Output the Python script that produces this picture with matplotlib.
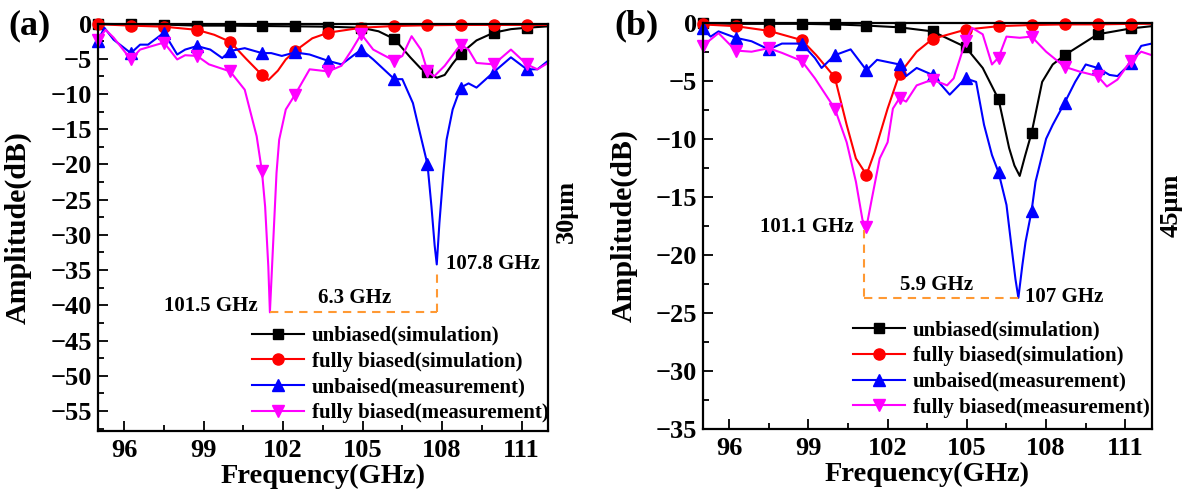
import numpy as np
import matplotlib
matplotlib.use("Agg")
import matplotlib.pyplot as plt
from matplotlib.ticker import MultipleLocator

plt.rcParams['font.family'] = ['Liberation Serif', 'DejaVu Serif']
plt.rcParams['font.weight'] = 'bold'

# ---------------- data: panel (a) 30um ----------------
a_unb_sim_f = [95.0, 96.25, 97.5, 98.75, 100.0, 101.2, 102.45, 103.7, 104.95, 105.6, 106.2,
               106.8, 107.2, 107.45, 107.8, 108.1, 108.4, 108.7, 109.3, 109.95, 110.6, 111.2, 112.0]
a_unb_sim_v = [-0.05, -0.1, -0.15, -0.3, -0.3, -0.35, -0.4, -0.45, -0.6, -1.1, -2.2,
               -4.8, -6.4, -6.9, -7.7, -7.3, -5.7, -4.3, -2.4, -1.3, -0.8, -0.6, -0.4]

a_fb_sim_f = [95.0, 96.25, 97.5, 98.75, 99.4, 100.0, 100.6, 101.2, 101.45, 101.8, 102.1, 102.45,
              103.1, 103.7, 104.95, 106.2, 107.45, 108.7, 109.95, 111.2, 112.0]
a_fb_sim_v = [-0.1, -0.3, -0.45, -0.9, -1.6, -2.6, -5.0, -7.3, -8.0, -6.7, -5.1, -3.9,
              -2.1, -1.3, -0.6, -0.35, -0.25, -0.2, -0.2, -0.2, -0.2]

a_unb_meas_f = [95.0, 95.25, 95.6, 96.25, 96.6, 96.9, 97.5, 98.0, 98.3, 98.75, 99.25, 99.7, 100.0,
                100.55, 101.2, 101.55, 101.95, 102.45, 103.0, 103.7, 104.2, 104.95, 105.4, 106.2,
                106.5, 106.9, 107.15, 107.45, 107.6, 107.72, 107.8, 107.9, 108.05, 108.17, 108.4,
                108.7, 109.0, 109.3, 109.95, 110.6, 111.2, 111.6, 112.0]
a_unb_meas_v = [-2.5, -0.6, -2.3, -4.2, -3.0, -3.0, -1.3, -4.4, -3.7, -3.2, -3.7, -4.9, -3.9,
                -3.5, -4.2, -4.2, -4.6, -4.1, -4.4, -5.3, -5.8, -3.7, -5.1, -7.9,
                -7.9, -11.3, -15.3, -20.0, -26.0, -31.5, -34.2, -28.3, -21.2, -16.5, -12.2,
                -9.1, -8.5, -9.1, -6.9, -4.8, -6.5, -6.5, -5.3]

a_fb_meas_f = [95.0, 95.3, 95.6, 96.25, 96.6, 97.5, 98.0, 98.3, 98.75, 99.2, 100.0, 100.55, 101.0,
               101.2, 101.32, 101.44, 101.5, 101.6, 101.75, 101.85, 102.1, 102.45, 103.0, 103.7,
               104.2, 104.6, 104.95, 105.4, 106.2, 106.5, 106.85, 107.2, 107.45, 107.7, 108.1,
               108.7, 109.0, 109.3, 109.95, 110.6, 111.2, 111.6, 112.0]
a_fb_meas_v = [-2.3, -0.9, -2.0, -5.1, -3.7, -2.7, -5.1, -4.5, -4.6, -5.8, -6.8, -9.4, -16.0,
               -21.0, -26.0, -34.5, -41.0, -33.0, -21.2, -16.5, -12.2, -10.1, -6.5, -6.8,
               -6.0, -3.7, -1.5, -3.7, -5.3, -4.6, -1.8, -3.7, -6.8, -7.5, -6.0,
               -3.0, -3.7, -5.6, -5.8, -3.7, -5.8, -6.5, -5.6]

# ---------------- data: panel (b) 45um ----------------
b_unb_sim_f = [95.0, 96.25, 97.5, 98.75, 100.0, 101.2, 102.45, 103.7, 104.95, 105.6, 106.2, 106.6,
               106.8, 107.0, 107.2, 107.45, 107.85, 108.25, 108.7, 109.95, 111.2, 112.0]
b_unb_sim_v = [-0.05, -0.1, -0.1, -0.1, -0.15, -0.25, -0.4, -0.75, -2.1, -3.9, -6.6, -10.8,
               -12.3, -13.2, -11.5, -9.5, -5.1, -3.6, -2.8, -1.0, -0.5, -0.3]

b_fb_sim_f = [95.0, 96.25, 97.5, 98.75, 99.3, 100.0, 100.45, 100.8, 101.2, 101.5, 102.0, 102.45,
              103.1, 103.7, 104.95, 106.2, 107.45, 108.7, 109.95, 111.2, 112.0]
b_fb_sim_v = [-0.15, -0.3, -0.7, -1.5, -2.8, -4.7, -8.8, -11.7, -13.1, -11.2, -7.4, -4.4,
              -2.5, -1.4, -0.6, -0.3, -0.2, -0.15, -0.15, -0.1, -0.1]

b_unb_meas_f = [95.0, 95.3, 95.6, 96.25, 96.85, 97.5, 98.0, 98.75, 99.25, 99.5, 100.0, 100.6,
                101.2, 101.6, 102.45, 102.7, 103.1, 103.7, 104.35, 104.95, 105.35, 105.65, 105.95,
                106.2, 106.5, 106.7, 106.84, 106.95, 107.1, 107.22, 107.45, 107.6, 108.0, 108.25,
                108.7, 109.1, 109.5, 109.95, 110.4, 110.7, 111.2, 111.6, 112.0]
b_unb_meas_v = [-0.5, -1.2, -0.75, -1.3, -1.6, -2.3, -1.8, -1.8, -3.05, -3.9, -2.8, -2.3,
                -4.1, -3.2, -3.6, -4.6, -3.9, -4.5, -6.2, -4.8, -5.1, -8.8, -11.4,
                -12.9, -15.7, -19.5, -22.1, -23.7, -20.9, -18.9, -16.2, -13.7, -10.0, -8.8,
                -6.9, -5.1, -3.6, -3.9, -4.5, -4.6, -3.5, -2.0, -1.8]

b_fb_meas_f = [95.0, 95.6, 96.25, 96.85, 97.5, 98.0, 98.75, 99.25, 100.0, 100.45, 100.8, 101.05,
               101.2, 101.4, 101.7, 102.0, 102.2, 102.45, 102.7, 103.1, 103.7, 104.25, 104.5,
               104.95, 105.2, 105.6, 105.95, 106.2, 106.5, 107.0, 107.45, 108.0, 108.7, 109.25,
               109.95, 110.3, 110.7, 111.2, 111.6, 112.0]
b_fb_meas_v = [-2.0, -0.9, -2.4, -2.5, -2.2, -2.6, -3.3, -4.8, -7.4, -10.3, -13.7, -17.0,
               -17.6, -15.2, -11.7, -10.3, -7.4, -6.5, -6.8, -5.4, -4.9, -5.4, -4.8,
               -1.6, -0.45, -1.0, -3.6, -3.0, -1.2, -1.3, -1.2, -2.5, -3.8, -4.2,
               -4.6, -5.5, -4.9, -3.3, -2.5, -2.8]

labels = ['unbiased(simulation)', 'fully biased(simulation)',
          'unbaised(measurement)', 'fully biased(measurement)']

# marker frequencies (where the symbols sit along each curve)
mark_f = [95.0, 96.25, 97.5, 98.75, 100.0, 101.2, 102.45, 103.7, 104.95, 106.2,
          107.45, 108.7, 109.95, 111.2]

# annotations
a_res = (101.5, 107.8, -41.0)   # fully biased dip, unbiased dip, level
b_res = (101.1, 107.0, -23.75)

styles = [dict(color='black', marker='s', ms=6.5),
          dict(color='red', marker='o', ms=8),
          dict(color='blue', marker='^', ms=9),
          dict(color='#FF00FF', marker='v', ms=9)]


def mk_idx(f):
    return [i for i, x in enumerate(f) if any(abs(x - m) < 1e-6 for m in mark_f)]


fig = plt.figure(figsize=(11.89, 4.93), dpi=100)
axa = fig.add_axes([0.0822, 0.1264, 0.3787, 0.8259])
axb = fig.add_axes([0.5910, 0.1298, 0.3777, 0.8242])

series_a = [(a_unb_sim_f, a_unb_sim_v), (a_fb_sim_f, a_fb_sim_v),
            (a_unb_meas_f, a_unb_meas_v), (a_fb_meas_f, a_fb_meas_v)]
series_b = [(b_unb_sim_f, b_unb_sim_v), (b_fb_sim_f, b_fb_sim_v),
            (b_unb_meas_f, b_unb_meas_v), (b_fb_meas_f, b_fb_meas_v)]

for ax, series, ylo, ymaj in [(axa, series_a, -57.8, 5), (axb, series_b, -35, 5)]:
    for (f, v), st, lab in zip(series, styles, labels):
        ax.plot(f, v, color=st['color'], lw=1.5, marker=st['marker'], ms=st['ms'],
                markevery=mk_idx(f), label=lab, clip_on=False)
    ax.set_xlim(95, 112)
    ax.set_ylim(ylo, 0)
    ax.xaxis.set_major_locator(MultipleLocator(3))
    ax.xaxis.set_minor_locator(MultipleLocator(1.5))
    ax.set_xticks(np.arange(96, 112, 3))
    ax.yaxis.set_major_locator(MultipleLocator(ymaj))
    ax.yaxis.set_minor_locator(MultipleLocator(2.5))
    ax.tick_params(which='both', direction='in', top=False, right=False, width=1.3)
    ax.tick_params(which='major', length=7, labelsize=19, pad=6)
    ax.tick_params(which='minor', length=4)
    ax.tick_params(axis='y', pad=4)
    for sp in ax.spines.values():
        sp.set_linewidth(1.6)
    ax.set_xlabel('Frequency(GHz)', fontsize=20.5, fontweight='bold')
    ax.set_ylabel('Amplitude(dB)', fontsize=21.5, fontweight='bold')
    for lab in ax.get_xticklabels() + ax.get_yticklabels():
        lab.set_fontweight('bold')

axa.yaxis.set_label_coords(-0.146, 0.5)
axb.yaxis.set_label_coords(-0.144, 0.5)
axa.xaxis.set_label_coords(0.5, -0.082)
axb.xaxis.set_label_coords(0.5, -0.082)

leg_kw = dict(frameon=False, fontsize=15, handlelength=2.5, handletextpad=0.35,
              labelspacing=0.28, borderpad=0, borderaxespad=0, loc='lower left')
axa.legend(bbox_to_anchor=(0.343, 0.018), **leg_kw)
axb.legend(bbox_to_anchor=(0.335, 0.028), **leg_kw)

orange = '#FF9933'
# (a) annotations
f1, f2, lev = a_res
axa.plot([f1, f2], [lev, lev], ls='--', color=orange, lw=1.5, dashes=(4, 3))
axa.plot([f2, f2], [lev, -35.3], ls='--', color=orange, lw=1.5, dashes=(4, 3))
axa.text(101.05, -40.1, '101.5 GHz', ha='right', va='center', fontsize=15, fontweight='bold')
axa.text(104.7, -38.9, '6.3 GHz', ha='center', va='center', fontsize=15, fontweight='bold')
axa.text(108.14, -34.1, '107.8 GHz', ha='left', va='center', fontsize=15, fontweight='bold')

# (b) annotations
f1, f2, lev = b_res
axb.plot([f1, f1], [-17.9, lev], ls='--', color=orange, lw=1.5, dashes=(4, 3))
axb.plot([f1, f2], [lev, lev], ls='--', color=orange, lw=1.5, dashes=(4, 3))
axb.text(100.71, -17.6, '101.1 GHz', ha='right', va='center', fontsize=15, fontweight='bold')
axb.text(103.84, -22.6, '5.9 GHz', ha='center', va='center', fontsize=15, fontweight='bold')
axb.text(107.2, -23.6, '107 GHz', ha='left', va='center', fontsize=15, fontweight='bold')

fig.text(0.007, 0.948, '(a)', fontsize=26, fontweight='bold', va='center', ha='left')
fig.text(0.517, 0.948, '(b)', fontsize=26, fontweight='bold', va='center', ha='left')
fig.text(566 / 1189, 1 - 211 / 493, '30μm', rotation=90, fontsize=19, fontweight='bold',
         va='center', ha='center')
fig.text(1171 / 1189, 1 - 205 / 493, '45μm', rotation=90, fontsize=19, fontweight='bold',
         va='center', ha='center')

fig.savefig('out.png', dpi=100)
